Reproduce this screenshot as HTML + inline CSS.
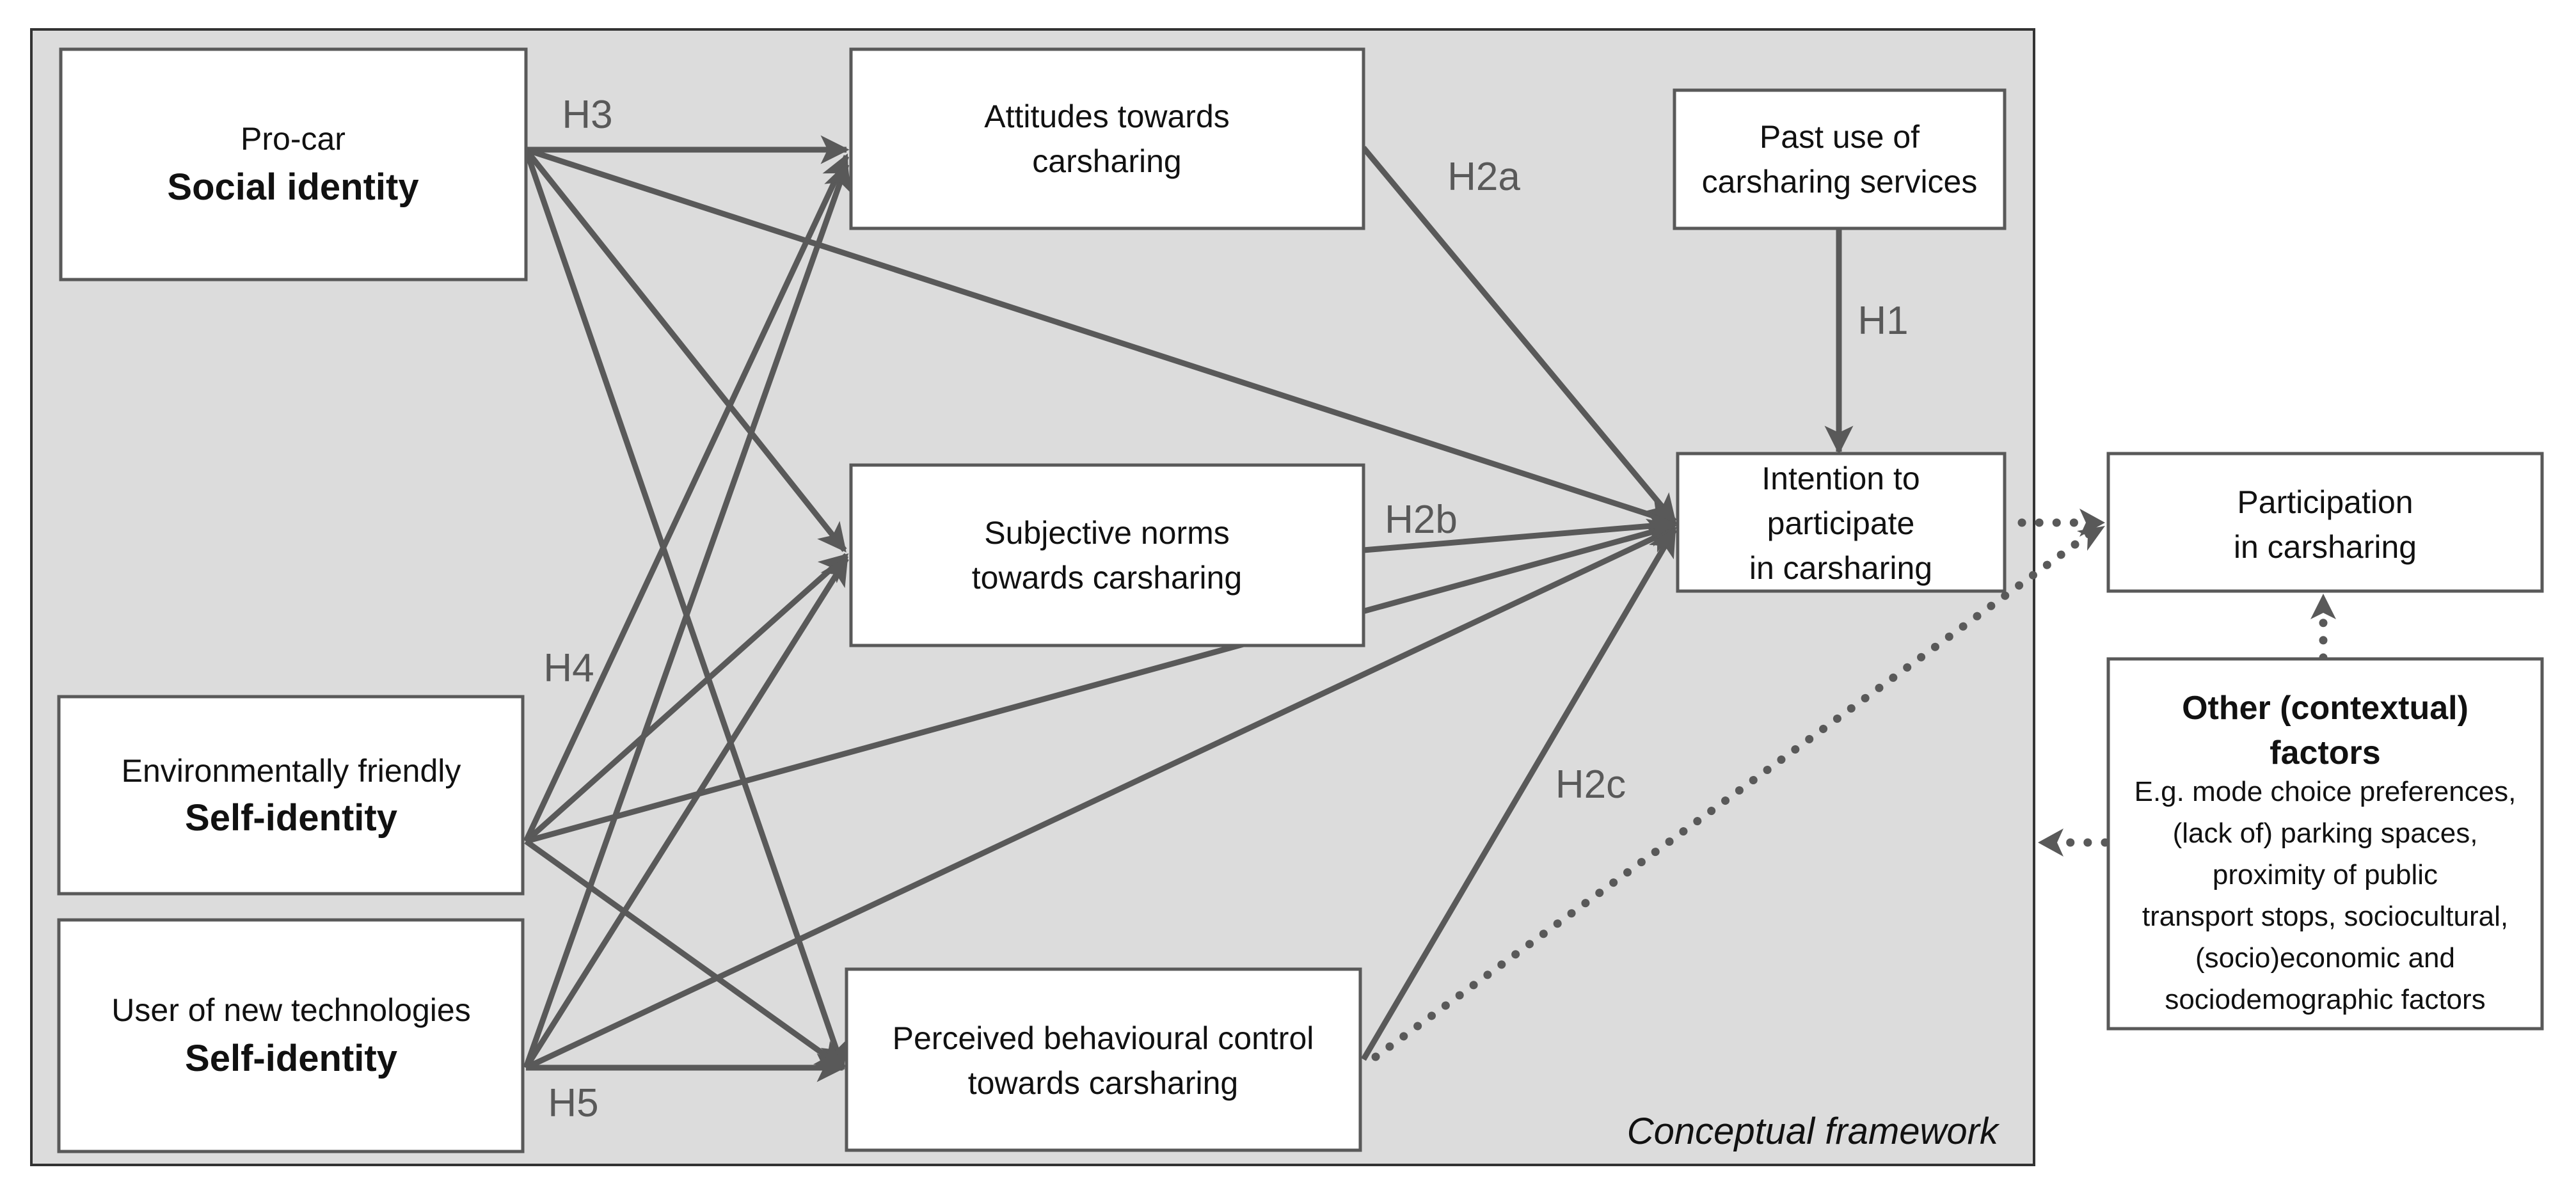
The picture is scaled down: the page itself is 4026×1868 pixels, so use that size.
<!DOCTYPE html>
<html><head><meta charset="utf-8"><style>
html,body{margin:0;padding:0;background:#fff;}
svg{display:block;}
text{font-family:"Liberation Sans",sans-serif;fill:#111;}
.h{fill:#595959;font-size:62px;}
</style></head><body>
<svg width="4026" height="1868" viewBox="0 0 4026 1868" xmlns="http://www.w3.org/2000/svg">
<defs>
<marker id="a" markerWidth="5" markerHeight="5" refX="4.5" refY="2.5" orient="auto" markerUnits="strokeWidth">
<path d="M0,0 L5,2.5 L0,5 L1.2,2.5 Z" fill="#595959"/>
</marker>
</defs>
<rect x="49" y="46" width="3130" height="1775" fill="#dcdcdc" stroke="#333" stroke-width="4"/>
<g stroke="#595959" stroke-width="9" fill="none" marker-end="url(#a)">
<line x1="822" y1="234" x2="1323" y2="234"/>
<line x1="822" y1="234" x2="2617" y2="817"/>
<line x1="822" y1="234" x2="1320" y2="860"/>
<line x1="822" y1="234" x2="1317" y2="1669"/>
<line x1="822" y1="1315" x2="1323" y2="244"/>
<line x1="822" y1="1315" x2="1323" y2="868"/>
<line x1="822" y1="1315" x2="2617" y2="822"/>
<line x1="822" y1="1315" x2="1317" y2="1669"/>
<line x1="822" y1="1669" x2="1323" y2="257"/>
<line x1="822" y1="1669" x2="1323" y2="873"/>
<line x1="822" y1="1669" x2="2617" y2="826"/>
<line x1="822" y1="1669" x2="1317" y2="1669"/>
<line x1="2131" y1="231" x2="2617" y2="815"/>
<line x1="2131" y1="860" x2="2617" y2="819"/>
<line x1="2131" y1="1656" x2="2617" y2="828"/>
<line x1="2874" y1="357" x2="2874" y2="706"/>
</g>
<g stroke="#595959" stroke-width="13" fill="none" stroke-dasharray="0.1 27" stroke-linecap="round">
<line x1="3160" y1="817" x2="3265" y2="817"/>
<line x1="2150" y1="1652" x2="3265" y2="835"/>
<line x1="3631" y1="1028" x2="3631" y2="950"/>
<line x1="3290" y1="1317" x2="3215" y2="1317"/>
</g>
<g fill="#595959">
<path d="M3290,817 l-40,-22 l10,22 l-10,22z"/>
<path d="M3290,822 l-44,8 l17,8 l-1,23z"/>
<path d="M3631,928 l-20,40 l20,-10 l20,10z"/>
<path d="M3185,1317 l40,-22 l-10,22 l10,22z"/>
</g>
<g fill="#fff" stroke="#595959" stroke-width="5">
<rect x="95" y="77" width="727" height="360"/>
<rect x="1330" y="77" width="801" height="280"/>
<rect x="2617" y="141" width="516" height="216"/>
<rect x="2622" y="709" width="511" height="215"/>
<rect x="1330" y="727" width="801" height="282"/>
<rect x="3295" y="709" width="678" height="215"/>
<rect x="3295" y="1030" width="678" height="578"/>
<rect x="92" y="1089" width="725" height="308"/>
<rect x="92" y="1438" width="725" height="362"/>
<rect x="1323" y="1515" width="803" height="283"/>
</g>
<g text-anchor="middle" font-size="50">
<text x="458" y="234">Pro-car</text>
<text x="458" y="312" font-size="58" font-weight="bold">Social identity</text>
<text x="1730" y="199">Attitudes towards</text>
<text x="1730" y="269">carsharing</text>
<text x="2875" y="231">Past use of</text>
<text x="2875" y="301">carsharing services</text>
<text x="2877" y="765">Intention to</text>
<text x="2877" y="835">participate</text>
<text x="2877" y="905">in carsharing</text>
<text x="1730" y="850">Subjective norms</text>
<text x="1730" y="920">towards carsharing</text>
<text x="3634" y="802">Participation</text>
<text x="3634" y="872">in carsharing</text>
<text x="3634" y="1124" font-size="52" font-weight="bold">Other (contextual)</text>
<text x="3634" y="1194" font-size="52" font-weight="bold">factors</text>
<g font-size="44">
<text x="3634" y="1252">E.g. mode choice preferences,</text>
<text x="3634" y="1317">(lack of) parking spaces,</text>
<text x="3634" y="1382">proximity of public</text>
<text x="3634" y="1447">transport stops, sociocultural,</text>
<text x="3634" y="1512">(socio)economic and</text>
<text x="3634" y="1577">sociodemographic factors</text>
</g>
<text x="455" y="1222">Environmentally friendly</text>
<text x="455" y="1298" font-size="58" font-weight="bold">Self-identity</text>
<text x="455" y="1596">User of new technologies</text>
<text x="455" y="1674" font-size="58" font-weight="bold">Self-identity</text>
<text x="1724" y="1640">Perceived behavioural control</text>
<text x="1724" y="1710">towards carsharing</text>
</g>
<g text-anchor="middle">
<text class="h" x="918" y="200">H3</text>
<text class="h" x="2319" y="297">H2a</text>
<text class="h" x="2943" y="522">H1</text>
<text class="h" x="2221" y="833">H2b</text>
<text class="h" x="889" y="1065">H4</text>
<text class="h" x="2486" y="1247">H2c</text>
<text class="h" x="896" y="1745">H5</text>
</g>
<text x="3123" y="1788" text-anchor="end" font-size="58" font-style="italic" fill="#222">Conceptual framework</text>
</svg>
</body></html>
